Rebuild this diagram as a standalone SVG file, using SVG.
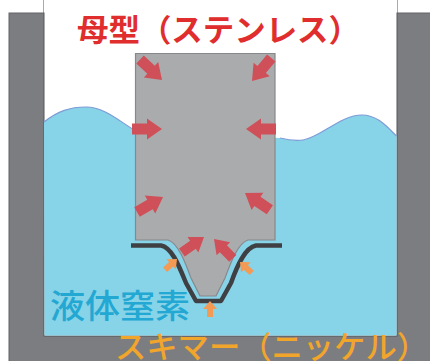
<svg xmlns="http://www.w3.org/2000/svg" width="430" height="361" viewBox="0 0 430 361">
  <style>
    .wall { fill: #7c7d81; stroke: #646569; stroke-width: 1; }
    .liquid { fill: #87d3e8; }
    .wave { fill: none; stroke: #7e9bd6; stroke-width: 1.2; }
    .mold { fill: #aaabad; stroke: #87888b; stroke-width: 1.2; }
    .skimmer { fill: none; stroke: #3f4044; stroke-width: 4.5; stroke-linejoin: round; }
    .press { fill: #cf5058; }
    .heat { fill: #f39a55; }
    .label { font-family: "Noto Sans CJK JP", "Noto Sans", sans-serif; }
  </style>
  <defs>
    <!-- block arrows, tip at the origin, pointing along +x -->
    <path id="bigArrow" d="M-30,-5.5 H-15 V-10.5 L0,0 L-15,10.5 V5.5 H-30 Z"/>
    <path id="smallArrow" d="M-16,-3 H-8 V-7 L0,0 L-8,7 V3 H-16 Z"/>
  </defs>

  <rect width="430" height="361" fill="#ffffff"/>

  <!-- tank -->
  <g id="tank">
    <rect class="wall" x="9" y="13" width="430" height="360"/>
    <rect x="44" y="0" width="353" height="336" fill="#ffffff" stroke="#55565a" stroke-width="1"/>
    <rect x="44" y="0" width="353" height="12.5" fill="#ffffff"/>
  </g>

  <!-- liquid nitrogen bath -->
  <g id="bath">
    <path class="liquid" d="M44,122 C58,111 70,107 86,107 C106,107 122,124 138,132 L280,138 C288,140 296,141 303,140 C320,138 340,115 362,115 C378,115 388,128 396.5,136 V335.5 H44.5 Z"/>
    <path class="wave" d="M44,122 C58,111 70,107 86,107 C106,107 122,124 138,132 M280,138 C288,140 296,141 303,140 C320,138 340,115 362,115 C378,115 388,128 396.5,136"/>
  </g>

  <!-- stainless mold -->
  <g id="mold">
    <path class="mold" d="M135.5,53.5 H275 V240 H248 C238,243 231,262 225,278 L216,296 H200 L191,278 C185,262 178,243 168,240 H135.5 Z"/>
  </g>

  <!-- nickel skimmer -->
  <g id="skimmer">
    <path class="skimmer" d="M131,245.5 H161 C172,247.5 179,266 186,283 L196,301 H221 L231,283 C237,266 245,247.5 256,245.5 H282"/>
  </g>

  <!-- arrows -->
  <g id="connectors">
    <g class="press">
      <use href="#bigArrow" transform="translate(162,80) rotate(43)"/>
      <use href="#bigArrow" transform="translate(252,81) rotate(130)"/>
      <use href="#bigArrow" transform="translate(162,129)"/>
      <use href="#bigArrow" transform="translate(246,129) rotate(180)"/>
      <use href="#bigArrow" transform="translate(163,197) rotate(-30)"/>
      <use href="#bigArrow" transform="translate(245,193) rotate(-146)"/>
      <use href="#bigArrow" transform="translate(204,237) rotate(-35) scale(0.9)"/>
      <use href="#bigArrow" transform="translate(214,239) rotate(-134) scale(0.9)"/>
    </g>
    <g class="heat">
      <use href="#smallArrow" transform="translate(177,259) rotate(-42)"/>
      <use href="#smallArrow" transform="translate(240,262) rotate(-137)"/>
      <use href="#smallArrow" transform="translate(210,301) rotate(-90)"/>
    </g>
  </g>

  <!-- labels -->
  <g id="labels">
    <text class="label" x="77" y="41" font-size="31" font-weight="700" fill="#e02d2d" textLength="283" lengthAdjust="spacingAndGlyphs">母型（ステンレス）</text>
    <text class="label" x="50" y="318" font-size="33" font-weight="500" fill="#22a8d2" textLength="140" lengthAdjust="spacingAndGlyphs">液体窒素</text>
    <text class="label" x="115" y="358" font-size="31" font-weight="500" fill="#f2a52b" textLength="313" lengthAdjust="spacingAndGlyphs">スキマー（ニッケル）</text>
  </g>
</svg>
